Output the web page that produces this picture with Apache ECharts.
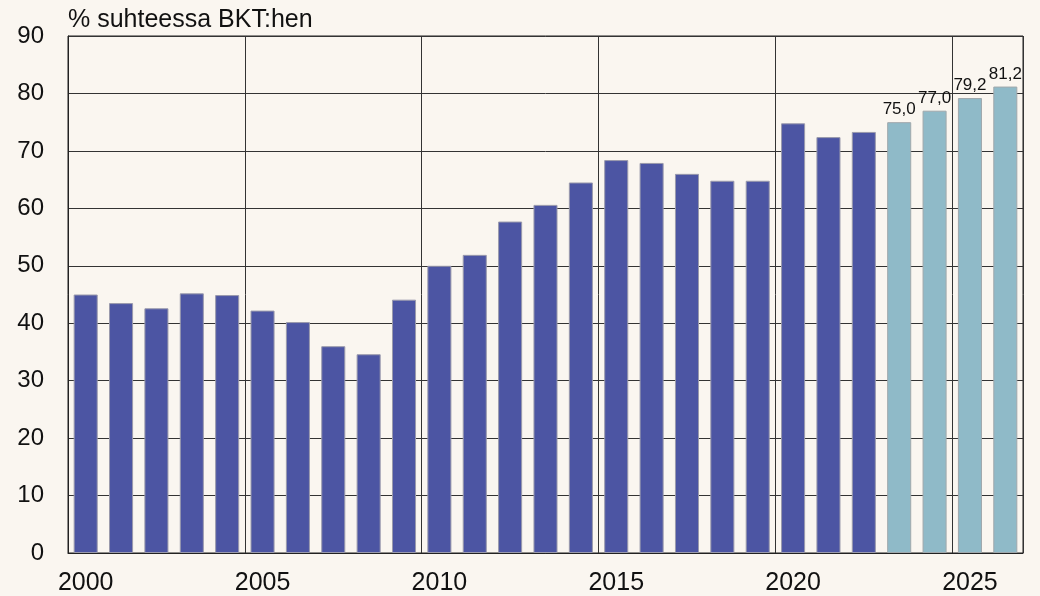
<!DOCTYPE html>
<html>
<head>
<meta charset="utf-8">
<script src="https://cdn.jsdelivr.net/npm/echarts@6/dist/echarts.min.js"></script>
<style>
  html, body { margin: 0; padding: 0; background: #faf6f0; }
  #chart { width: 1040px; height: 596px; }
</style>
</head>
<body>
<div id="chart"></div>
<script>
// vuodet 2000-2026
var years = [];
for (var y = 2000; y <= 2026; y++) years.push(String(y));

// toteutunut
var actual = [45.0, 43.5, 42.6, 45.2, 44.9, 42.2, 40.2, 36.0, 34.6, 44.1,
  50.0, 51.9, 57.7, 60.6, 64.5, 68.4, 67.9, 66.0, 64.8, 64.8,
  74.8, 72.4, 73.3];
// ennuste
var forecast = [75.0, 77.0, 79.2, 81.2];

var yTicks = [0, 10, 20, 30, 40, 50, 60, 70, 80, 90];

var actualData = years.map(function (d, i) { return i < actual.length ? actual[i] : '-'; });
var forecastData = years.map(function (d, i) {
  var j = i - actual.length;
  return j >= 0 ? forecast[j] : '-';
});

var chart = echarts.init(document.getElementById('chart'));
chart.setOption({
  backgroundColor: '#faf6f0',
  animation: false,
  title: {
    text: '% suhteessa BKT:hen',
    left: 63, top: 3,
    textStyle: { fontFamily: 'Liberation Sans', fontSize: 25, fontWeight: 'normal', color: '#111' }
  },
  grid: {
    left: 68, right: 17, top: 36, bottom: 42,
    show: true, borderColor: '#222', borderWidth: 1
  },
  xAxis: {
    type: 'category',
    data: years,
    axisLine: { lineStyle: { color: '#222', width: 1 } },
    axisTick: { show: false },
    axisLabel: {
      interval: 4, margin: 18,
      fontFamily: 'Liberation Sans', fontSize: 25, color: '#111'
    },
    splitLine: { show: true, interval: 4, lineStyle: { color: '#333', width: 1 } }
  },
  yAxis: {
    type: 'value',
    min: yTicks[0], max: yTicks[yTicks.length - 1], interval: 10,
    axisLine: { show: true, lineStyle: { color: '#222' } },
    axisTick: { show: false },
    axisLabel: { margin: 24, fontFamily: 'Liberation Sans', fontSize: 24, color: '#111' },
    splitLine: { lineStyle: { color: '#333', width: 1 } }
  },
  series: [
    {
      type: 'bar',
      data: actualData,
      barCategoryGap: '32%',
      barGap: '-100%',
      itemStyle: { color: '#4c55a3', borderColor: '#9a9aac', borderWidth: 1 }
    },
    {
      type: 'bar',
      data: forecastData,
      barCategoryGap: '32%',
      barGap: '-100%',
      itemStyle: { color: '#8fbac8', borderColor: '#a0a8ac', borderWidth: 1 },
      label: {
        show: true, position: 'top', distance: 4,
        fontFamily: 'Liberation Sans', fontSize: 17, color: '#111',
        formatter: function (p) { return p.value.toFixed(1).replace('.', ','); }
      }
    }
  ]
});
</script>
</body>
</html>
